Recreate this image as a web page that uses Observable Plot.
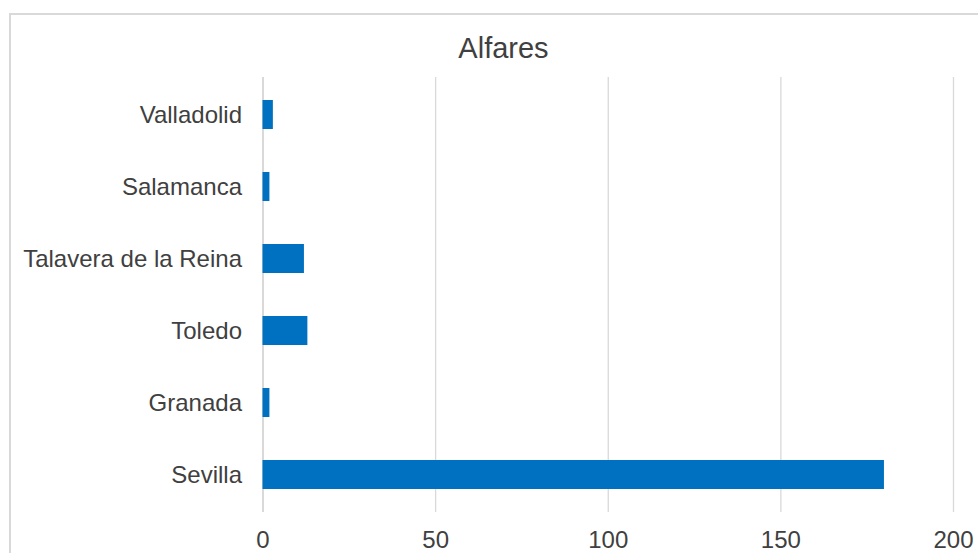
<!DOCTYPE html>
<html>
<head>
<meta charset="utf-8">
<script src="https://cdn.jsdelivr.net/npm/d3@7"></script>
<script src="https://cdn.jsdelivr.net/npm/@observablehq/plot@0.6"></script>
<style>
  html, body { margin: 0; padding: 0; background: #fff; overflow: hidden; }
  #wrap { position: relative; width: 978px; height: 553px; overflow: hidden; font-family: "Liberation Sans", Arial, sans-serif; }
  #frame { position: absolute; left: 9px; top: 13px; width: 1100px; height: 700px; border: 2px solid #d9d9d9; box-sizing: border-box; pointer-events: none; }
  #titlebox { position: relative; width: 978px; height: 60px; }
  #title { position: absolute; left: 503.5px; top: 34px; transform: translateX(-50%); font-size: 29px; line-height: 29px; color: #404040; white-space: nowrap; }
  #chart svg { display: block; }
</style>
</head>
<body>
<div id="wrap">
  <div id="titlebox"><span id="title">Alfares</span></div>
  <div id="chart"></div>
  <div id="frame"></div>
</div>
<script>
const cities = ["Valladolid", "Salamanca", "Talavera de la Reina", "Toledo", "Granada", "Sevilla"];
const alfares = [3, 2, 12, 13, 2, 180];
const xTicks = [0, 50, 100, 150, 200];

const data = cities.map((c, i) => ({city: c, value: alfares[i]}));

const chart = Plot.plot({
  width: 978,
  height: 493,
  marginTop: 17,
  marginBottom: 41,
  marginLeft: 262.5,
  marginRight: 25,
  style: {fontFamily: "Liberation Sans, Arial, sans-serif", fontSize: "24px", color: "#404040", background: "#fff"},
  x: {domain: [0, 200], ticks: xTicks, label: null},
  y: {domain: cities, paddingInner: 0.6, paddingOuter: 0.3, label: null},
  marks: [
    Plot.gridX(xTicks, {stroke: "#d9d9d9", strokeOpacity: 1, strokeWidth: 1.3}),
    Plot.ruleX([0], {stroke: "#d9d9d9", strokeWidth: 2}),
    Plot.barX(data, {x: "value", y: "city", fill: "#0070c0"}),
    Plot.axisX(xTicks, {tickSize: 0, tickPadding: 18, fontSize: 24, fill: "#404040", label: null}),
    Plot.axisY({tickSize: 0, tickPadding: 21, fontSize: 24, fill: "#404040", label: null})
  ]
});
document.getElementById("chart").appendChild(chart);
</script>
</body>
</html>
